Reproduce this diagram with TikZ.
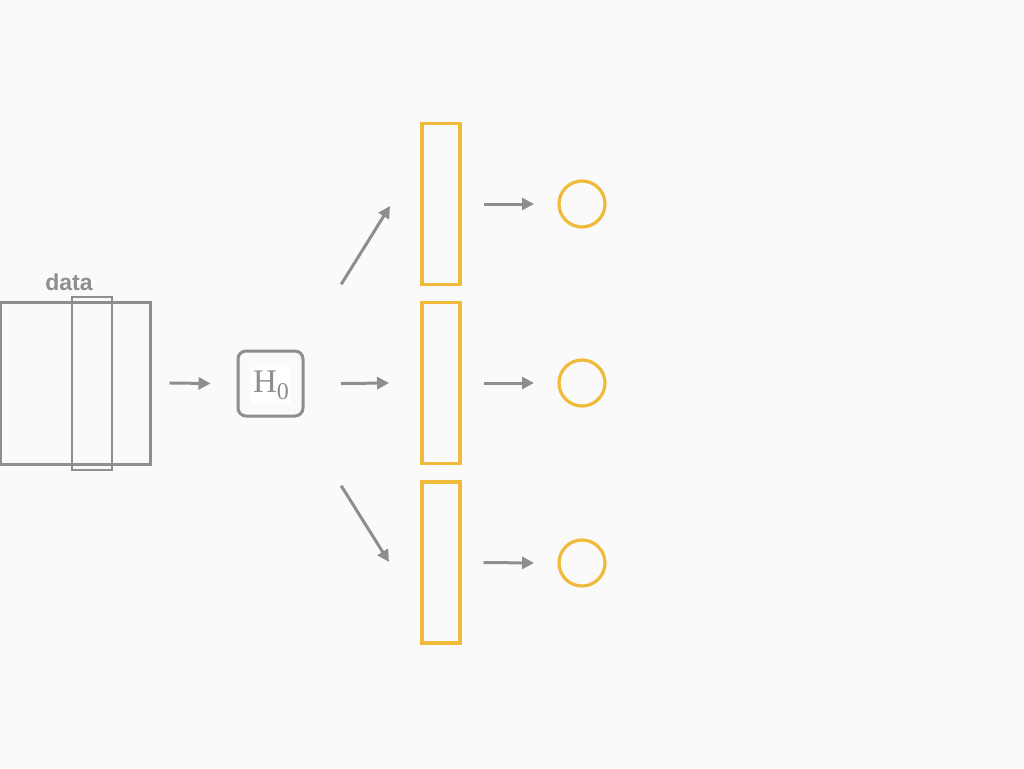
\documentclass[tikz,border=0pt]{standalone}
\usepackage{fontspec}
\newfontfamily\labelfont{Liberation Sans}
\newfontfamily\statefont{Liberation Serif}
\usetikzlibrary{arrows.meta}
\definecolor{custcol_gray}{RGB}{142, 142, 142}
\definecolor{custcol_gold}{RGB}{240, 186, 58}
\definecolor{custcol_bg}{RGB}{250, 250, 250}
\tikzset{
  flow/.style={line width=3pt, custcol_gray, -{Triangle[length=12pt,width=12pt]}},
  matbox/.style={draw=custcol_gray, line width=3pt, inner sep=0, outer sep=0},
  slicebox/.style={draw=custcol_gray, line width=1.3pt, dash pattern=on 1pt off 1pt, inner sep=0, outer sep=0},
  vecbox/.style={draw=custcol_gold, line width=3.2pt, inner sep=0, outer sep=0, minimum width=38pt, minimum height=161pt},
  outcirc/.style={draw=custcol_gold, line width=3.2pt, circle, inner sep=0, outer sep=0, minimum size=46pt}
}
\begin{document}
\begin{tikzpicture}[x=1pt,y=-1pt,line cap=rect]
\fill [custcol_bg] (0.0,0.0) rectangle (1024.0,768.0);
\useasboundingbox (0.0,0.0) rectangle (1024.0,768.0);
% data matrix with one slice
\node[matbox, minimum width=150pt, minimum height=162pt] (data) at (75.0,383.0) {};
\node[slicebox, minimum width=40pt, minimum height=173pt] (slice) at (92.0,383.5) {};
\node[text=custcol_gray, anchor=base] (datalabel) at (69.0,290.0) {\labelfont\fontsize{23pt}{23pt}\selectfont\bfseries data};
% hidden state
\node[draw=custcol_gray, line width=3pt, rounded corners=8pt, minimum width=65pt, minimum height=65pt, inner sep=0] (hzero) at (270.5,383.5) {};
\node[fill=white, inner xsep=2pt, inner ysep=3pt, text=custcol_gray, anchor=base] (hzerotext) at (271.0,392.0) {\statefont\fontsize{33pt}{33pt}\selectfont H\raisebox{-0.22em}{\fontsize{24pt}{24pt}\selectfont 0}};
% vectors and outputs
\node[vecbox] (vecA) at (441.0,204.0) {};
\node[vecbox] (vecB) at (441.0,383.0) {};
\node[vecbox] (vecC) at (441.0,562.5) {};
\node[outcirc] (outA) at (582.0,204.0) {};
\node[outcirc] (outB) at (582.0,383.0) {};
\node[outcirc] (outC) at (582.0,563.0) {};
% arrow ends
\coordinate (upS) at (342.0,283.0);
\coordinate (upE) at (390.0,206.0);
\coordinate (downS) at (342.0,487.0);
\coordinate (downE) at (389.0,562.0);
\draw [flow] ([xshift=21pt]data.east) -- ([xshift=-26pt]hzero.west);
\draw [flow] (upS) -- (upE);
\draw [flow] ([xshift=38pt]hzero.east) -- ([xshift=-33pt]vecB.west);
\draw [flow] (downS) -- (downE);
\draw [flow] ([xshift=25pt]vecA.east) -- ([xshift=-25pt]outA.west);
\draw [flow] ([xshift=25pt]vecB.east) -- ([xshift=-25pt]outB.west);
\draw [flow] ([xshift=25pt]vecC.east) -- ([xshift=-25pt]outC.west);
\end{tikzpicture}
\end{document}
